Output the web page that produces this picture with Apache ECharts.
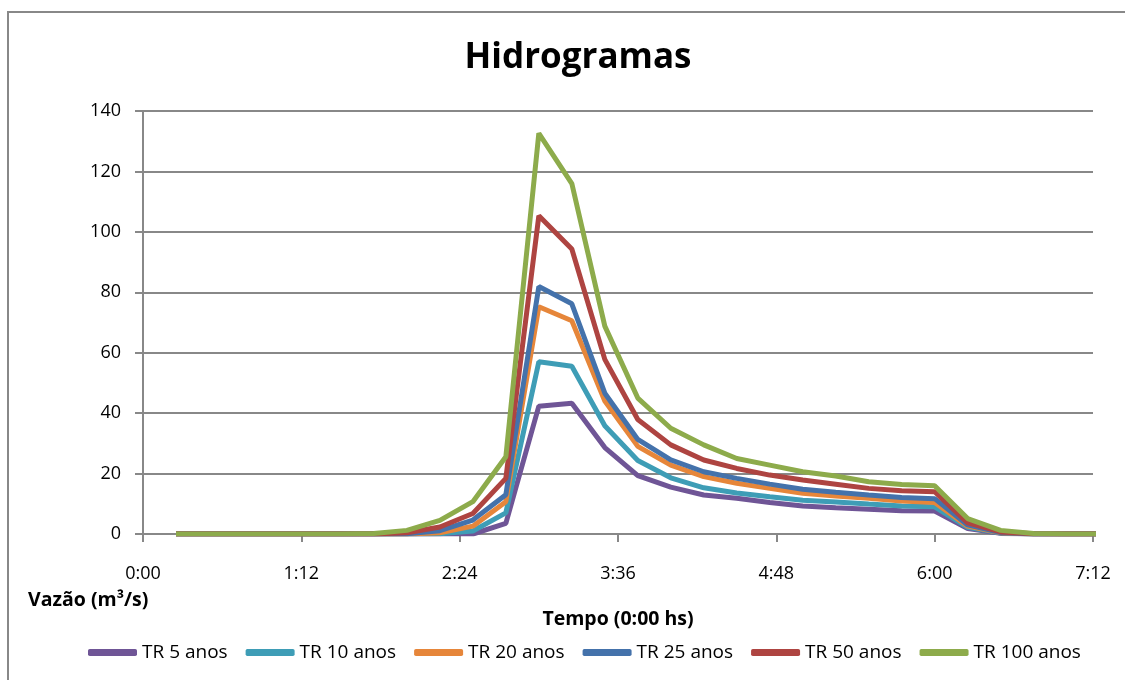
<!DOCTYPE html>
<html>
<head>
<meta charset="utf-8">
<script src="https://cdn.jsdelivr.net/npm/echarts@6/dist/echarts.min.js"></script>
<style>
    html, body { margin: 0; padding: 0; background: #fff; }
    #chart { width: 1125px; height: 680px; }
</style>
</head>
<body>
<div id="chart"></div>
<script>
// horario de cada ponto do hidrograma (passo de 15 min)
const times = ['0:15', '0:30', '0:45', '1:00', '1:15', '1:30', '1:45', '2:00', '2:15', '2:30',
    '2:45', '3:00', '3:15', '3:30', '3:45', '4:00', '4:15', '4:30', '4:45', '5:00',
    '5:15', '5:30', '5:45', '6:00', '6:15', '6:30', '6:45', '7:00', '7:15'];

const tr5 = [0, 0, 0, 0, 0, 0, 0, 0, 0, 0,
    3.5, 42.3, 43.3, 28.6, 19.3, 15.5, 12.9, 11.8, 10.4, 9.3,
    8.7, 8.2, 7.7, 7.6, 1.8, 0.2, 0, 0, 0];
const tr10 = [0, 0, 0, 0, 0, 0, 0, 0, 0.1, 1.0,
    7.0, 57.0, 55.5, 35.8, 24.3, 18.6, 15.3, 13.6, 12.3, 11.2,
    10.6, 9.9, 9.3, 9.0, 2.2, 0.3, 0, 0, 0];
const tr20 = [0, 0, 0, 0, 0, 0, 0, 0, 0.4, 2.6,
    10.7, 75.2, 70.6, 44.0, 29.0, 22.8, 19.0, 16.8, 15.1, 13.5,
    12.6, 11.8, 10.9, 10.4, 2.6, 0.4, 0, 0, 0];
const tr25 = [0, 0, 0, 0, 0, 0, 0, 0.1, 1.1, 4.6,
    13.0, 81.9, 76.2, 46.6, 31.3, 24.5, 20.6, 18.4, 16.5, 14.8,
    13.8, 12.9, 12.1, 11.7, 3.0, 0.5, 0, 0, 0];
const tr50 = [0, 0, 0, 0, 0, 0, 0, 0.4, 2.3, 6.8,
    18.4, 105.3, 94.3, 57.8, 37.9, 29.5, 24.5, 21.7, 19.5, 17.9,
    16.5, 15.1, 14.3, 14.0, 3.7, 0.7, 0.1, 0, 0];
const tr100 = [0, 0, 0, 0, 0, 0, 0.2, 1.2, 4.5, 10.7,
    25.6, 132.6, 116.0, 68.8, 45.0, 35.0, 29.5, 25.0, 22.8, 20.6,
    19.2, 17.3, 16.4, 16.0, 5.1, 1.2, 0.2, 0, 0];

const seriesNames = ['TR 5 anos', 'TR 10 anos', 'TR 20 anos', 'TR 25 anos', 'TR 50 anos', 'TR 100 anos'];
const seriesData = [tr5, tr10, tr20, tr25, tr50, tr100];
const colors = ['#6F5596', '#3E9DB6', '#E6863A', '#4472AB', '#AE4441', '#8DAB4B'];

const fontFamily = '"Open Sans", "Liberation Sans", sans-serif';
const gridColor = '#888888';

const toMinutes = t => {
    const [h, m] = t.split(':').map(Number);
    return h * 60 + m;
};

const fmtTime = v => {
    const h = Math.floor(v / 60);
    const m = Math.round(v % 60);
    return h + ':' + (m < 10 ? '0' + m : m);
};

const xs = times.map(toMinutes);

const chart = echarts.init(document.getElementById('chart'));

const option = {
    animation: false,
    color: colors,
    title: {
        text: 'Hidrogramas',
        left: 573,
        top: 36,
        textAlign: 'center',
        textStyle: {
            fontFamily,
            fontSize: 35,
            fontWeight: 'bold',
            color: '#000'
        }
    },
    legend: {
        data: seriesNames,
        left: 83,
        top: 638,
        icon: 'roundRect',
        itemWidth: 49,
        itemHeight: 7,
        itemGap: 18,
        textStyle: {
            fontFamily,
            fontSize: 19,
            color: '#000'
        }
    },
    grid: {
        left: 143,
        right: 32,
        top: 111,
        bottom: 146
    },
    xAxis: {
        type: 'value',
        min: 0,
        max: 432,
        interval: 72,
        axisLine: { show: true, onZero: false, lineStyle: { color: gridColor, width: 2 } },
        axisTick: { show: true, length: 8, lineStyle: { color: gridColor, width: 2 } },
        splitLine: { show: false },
        axisLabel: {
            margin: 31,
            fontFamily,
            fontSize: 18,
            color: '#000',
            formatter: fmtTime
        }
    },
    yAxis: {
        type: 'value',
        min: 0,
        max: 140,
        interval: 20,
        axisLine: { show: true, lineStyle: { color: gridColor, width: 2 } },
        axisTick: { show: true, length: 8, lineStyle: { color: gridColor, width: 2 } },
        splitLine: { show: true, lineStyle: { color: gridColor, width: 2 } },
        axisLabel: {
            margin: 22,
            fontFamily,
            fontSize: 18,
            color: '#000'
        }
    },
    graphic: [
        {
            type: 'rect',
            shape: { x: 8, y: 12, width: 1130, height: 700 },
            style: { fill: 'none', stroke: gridColor, lineWidth: 2 },
            silent: true
        },
        {
            type: 'text',
            x: 28,
            y: 600,
            style: {
                text: 'Vazão (m³/s)',
                fontFamily,
                fontSize: 19.5,
                fontWeight: 'bold',
                fill: '#000',
                align: 'left',
                verticalAlign: 'middle'
            }
        },
        {
            type: 'text',
            x: 618,
            y: 619,
            style: {
                text: 'Tempo (0:00 hs)',
                fontFamily,
                fontSize: 19.5,
                fontWeight: 'bold',
                fill: '#000',
                align: 'center',
                verticalAlign: 'middle'
            }
        }
    ],
    series: seriesNames.map((name, i) => ({
        name,
        type: 'line',
        symbol: 'none',
        clip: true,
        lineStyle: { width: 5, color: colors[i] },
        data: xs.map((x, j) => [x, seriesData[i][j]])
    }))
};

chart.setOption(option);
</script>
</body>
</html>
